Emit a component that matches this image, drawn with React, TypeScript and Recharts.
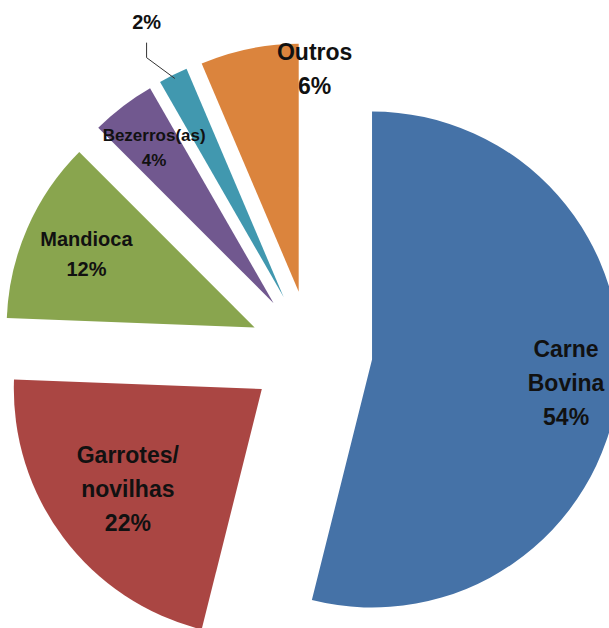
import React from 'react';
import { PieChart, Pie, Cell, Sector } from 'recharts';

// shares (labels show them rounded)
const CATEGORIES = ['Carne Bovina', 'Garrotes/novilhas', 'Mandioca', 'Bezerros(as)', '', 'Outros'];
const SHARES = [53.9, 21.7, 11.9, 4.2, 1.9, 6.4];
const LABEL_LINES = [['Carne', 'Bovina'], ['Garrotes/', 'novilhas'], ['Mandioca'], ['Bezerros(as)'], [], ['Outros']];

const COLORS = [
  '#4572A7', // blue
  '#AA4643', // red
  '#89A54E', // green
  '#71588F', // purple
  '#4198AF', // teal
  '#DB843D', // orange
];

// label placement: distance from pie centre along the slice mid angle, plus a nudge
const LABEL_STYLE = [
  { r: 257, size: 23, lh: 34, dx: 0, dy: 0 },
  { r: 229, size: 23, lh: 34, dx: 0, dy: 0 },
  { r: 245, size: 20, lh: 30, dx: 0, dy: 0 },
  { r: 258, size: 17, lh: 25, dx: 0, dy: 0 },
  { r: 369, size: 20, lh: 30, dx: 0, dy: 0 },
  { r: 282, size: 23, lh: 34, dx: 60, dy: -7 },
];

const EXPLODE = 61.5;
const RADIAN = Math.PI / 180;
const FONT = "'Liberation Sans', Arial, sans-serif";

const chartData = CATEGORIES.map((name, i) => ({ name, value: SHARES[i] }));

const ExplodedSlice = (props: any) => {
  const { cx, cy, midAngle } = props;
  const ox = cx + EXPLODE * Math.cos(-midAngle * RADIAN);
  const oy = cy + EXPLODE * Math.sin(-midAngle * RADIAN);
  return <Sector {...props} cx={ox} cy={oy} stroke="none" />;
};

const SliceLabel = (props: any) => {
  const { cx, cy, midAngle, percent, index } = props;
  const st = LABEL_STYLE[index];
  const cos = Math.cos(-midAngle * RADIAN);
  const sin = Math.sin(-midAngle * RADIAN);
  const x = cx + st.r * cos + st.dx;
  const y = cy + st.r * sin + st.dy;
  const lines = [...LABEL_LINES[index], `${Math.round(percent * 100)}%`];
  const y0 = y - ((lines.length - 1) * st.lh) / 2;

  let leader = null;
  if (index === 4) {
    // small slice: label sits outside with an elbow line
    const ex = cx + (EXPLODE + props.outerRadius - 4) * cos;
    const ey = cy + (EXPLODE + props.outerRadius - 4) * sin;
    leader = (
      <polyline
        points={`${x},${y + 21} ${x},${y + 36} ${ex},${ey}`}
        fill="none"
        stroke="#333"
        strokeWidth={1}
      />
    );
  }

  return (
    <g>
      {leader}
      <text
        x={x}
        y={y0}
        fill="#111"
        textAnchor="middle"
        dominantBaseline="central"
        fontFamily={FONT}
        fontWeight="bold"
        fontSize={st.size}
      >
        {lines.map((line, i) => (
          <tspan key={i} x={x} y={y0 + i * st.lh}>
            {line}
          </tspan>
        ))}
      </text>
    </g>
  );
};

export default function App() {
  return (
    <div style={{ position: 'absolute', left: 0, top: 0, width: 609, height: 628, background: '#fff' }}>
      <PieChart width={609} height={628} margin={{ top: 0, right: 0, bottom: 0, left: 0 }}>
        <Pie
          data={chartData}
          dataKey="value"
          nameKey="name"
          cx={311}
          cy={352}
          outerRadius={248}
          startAngle={90}
          endAngle={-270}
          stroke="none"
          labelLine={false}
          label={SliceLabel}
          shape={ExplodedSlice}
          activeShape={ExplodedSlice}
          inactiveShape={ExplodedSlice}
          isAnimationActive={false}
        >
          {chartData.map((entry, index) => (
            <Cell key={`cell-${index}`} fill={COLORS[index]} />
          ))}
        </Pie>
      </PieChart>
    </div>
  );
}
